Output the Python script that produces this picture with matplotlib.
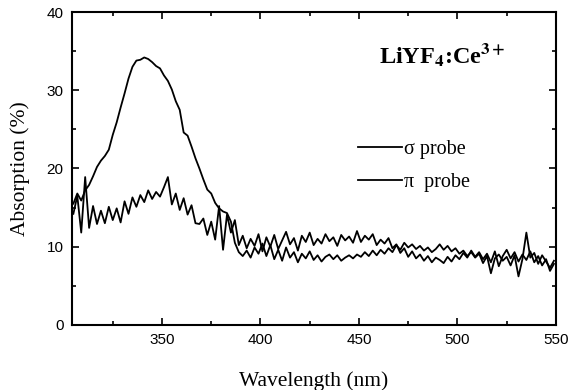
import numpy as np
import matplotlib
matplotlib.use("Agg")
import matplotlib.pyplot as plt
from matplotlib.ticker import MultipleLocator

# absorption, 2 nm steps from 305 nm
sigma_probe = [
    15.5, 16.8, 15.9, 17.2, 17.9, 19.0, 20.2, 21.0, 21.6, 22.4,
    24.3, 25.9, 27.8, 29.6, 31.5, 33.0, 33.8, 33.9, 34.2, 34.0,
    33.6, 33.1, 32.8, 31.9, 31.2, 30.1, 28.6, 27.5, 24.6, 24.2,
    22.8, 21.3, 20.0, 18.6, 17.3, 16.8, 15.6, 14.9, 14.5, 14.3,
    13.2, 10.5, 9.3, 8.8, 9.5, 8.6, 9.9, 9.1, 10.4, 8.8,
    10.2, 8.4, 9.6, 8.2, 9.9, 8.6, 9.3, 8.0, 9.1, 8.5,
    9.4, 8.3, 8.9, 8.1, 8.7, 9.0, 8.4, 8.9, 8.2, 8.6,
    8.9, 8.5, 9.0, 8.7, 9.3, 8.8, 9.5, 8.9, 9.6, 9.1,
    9.8, 9.3, 10.2, 9.6, 10.5, 9.9, 10.3, 9.7, 10.1, 9.5,
    9.9, 9.3, 9.7, 10.3, 9.6, 10.1, 9.4, 9.8, 9.1, 9.5,
    8.8, 9.3, 8.6, 9.1, 7.9, 8.8, 6.6, 8.5, 9.0, 8.2,
    8.7, 7.6, 8.9, 6.2, 8.4, 11.8, 8.6, 9.2, 7.8, 8.9,
    8.1, 7.3, 8.2,
]
pi_probe = [
    14.2, 16.5, 11.8, 18.9, 12.4, 15.2, 12.9, 14.6, 13.0, 15.1,
    13.4, 14.9, 13.1, 15.8, 14.2, 16.3, 15.1, 16.6, 15.7, 17.2,
    16.1, 17.0, 16.4, 17.6, 18.9, 15.4, 16.8, 14.7, 16.2, 14.1,
    15.3, 13.0, 12.9, 13.6, 11.5, 13.2, 10.9, 15.2, 9.6, 14.1,
    11.8, 13.4, 10.2, 11.4, 9.8, 11.0, 10.1, 11.6, 9.4, 11.2,
    10.0, 11.5, 9.7, 10.8, 11.9, 10.3, 11.1, 9.5, 11.4, 10.6,
    11.8, 10.2, 11.0, 10.4, 11.6, 10.7, 11.2, 10.1, 11.5, 10.8,
    11.3, 10.5, 12.0, 10.6, 11.4, 10.9, 11.6, 10.2, 10.9, 10.4,
    11.1, 9.8, 10.3, 9.2, 9.8, 8.7, 9.4, 8.5, 9.0, 8.2,
    8.8, 8.0, 8.6, 8.3, 7.9, 8.7, 8.1, 8.9, 8.4, 9.2,
    8.6, 9.5, 8.7, 9.3, 8.4, 9.1, 8.0, 9.4, 7.5, 8.8,
    9.6, 8.5, 9.3, 8.1, 9.0, 8.3, 9.4, 8.0, 8.8, 7.6,
    8.4, 6.9, 7.8,
]
wavelength = np.arange(305, 550, 2)

x_ticks = [350, 400, 450, 500, 550]
y_ticks = [0, 10, 20, 30, 40]

serif = ["Liberation Serif", "DejaVu Serif"]
sans = ["Liberation Sans", "DejaVu Sans"]

fig = plt.figure(figsize=(5.69, 3.90), dpi=100)
ax = fig.add_axes([0.1265, 0.167, 0.8505, 0.802])

ax.plot(wavelength, sigma_probe, color="black", lw=1.3, label="σ probe")
ax.plot(wavelength, pi_probe, color="black", lw=1.3, label="π  probe")

ax.set_xlim(304.3, 550)
ax.set_ylim(0, 40)
ax.set_xticks(x_ticks)
ax.set_yticks(y_ticks)
ax.xaxis.set_minor_locator(MultipleLocator(25))
ax.yaxis.set_minor_locator(MultipleLocator(5))
ax.tick_params(which="both", direction="in", top=True, right=True, width=1.2)
ax.tick_params(which="major", length=5, labelsize=11, pad=6)
ax.tick_params(which="minor", length=3)
for lab in ax.get_xticklabels() + ax.get_yticklabels():
    lab.set_family(sans)
for sp in ax.spines.values():
    sp.set_linewidth(1.5)

ax.set_xlabel("Wavelength (nm)", family=serif, fontsize=15.5, labelpad=17)
ax.set_ylabel("Absorption (%)", family=serif, fontsize=15.5, labelpad=12)

ax.text(0.766, 0.863, r"LiYF$_\mathbf{4}$:Ce$^\mathbf{3+}$", transform=ax.transAxes,
        ha="center", va="center", fontsize=17.5, fontweight="bold",
        family=serif, math_fontfamily="stix")

ax.legend(loc="upper left", bbox_to_anchor=(0.591, 0.59), frameon=False,
          borderpad=0, borderaxespad=0,
          handlelength=2.17, handletextpad=0.1, labelspacing=0.65,
          prop={"family": serif, "size": 14.5})

fig.savefig("out.png", dpi=100)
